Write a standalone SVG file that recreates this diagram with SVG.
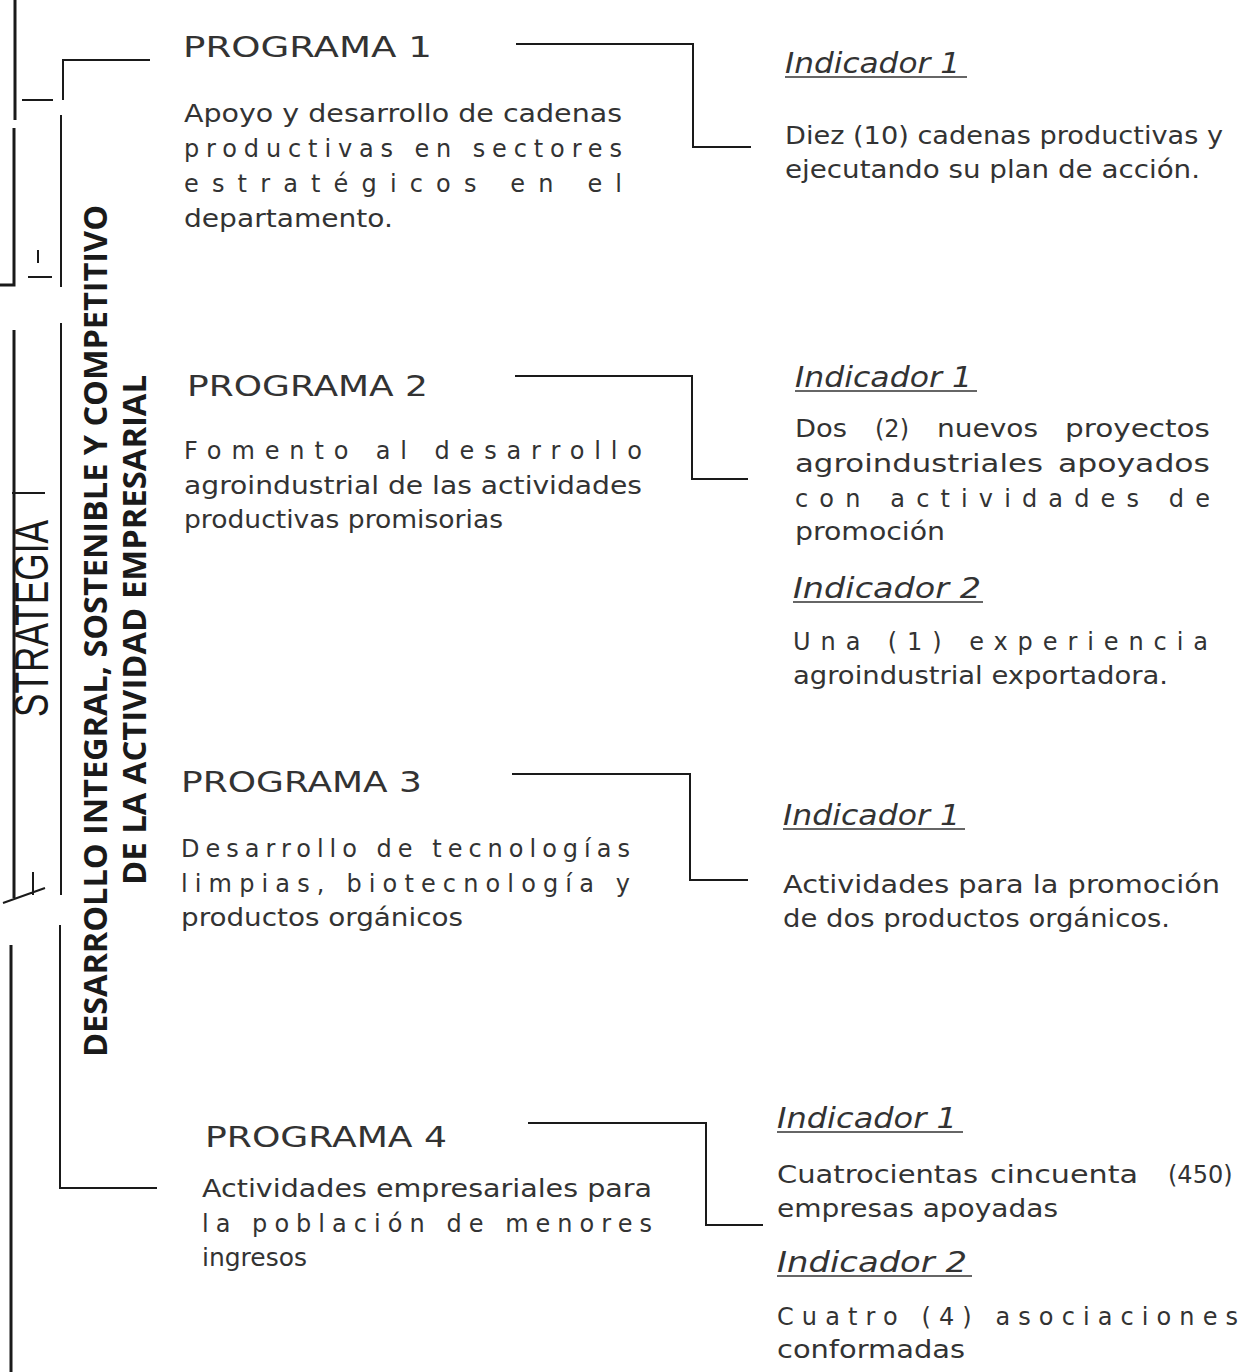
<svg xmlns="http://www.w3.org/2000/svg" width="1243" height="1372" viewBox="0 0 1243 1372">
<style>
.bg{fill:#ffffff}
.ln{stroke:#1a1a1a;stroke-width:2;fill:none}
.ln3{stroke:#1a1a1a;stroke-width:3;fill:none}
.h{font-family:"DejaVu Sans","Liberation Sans",sans-serif;font-size:29px;fill:#333333}
.b{font-family:"DejaVu Sans","Liberation Sans",sans-serif;font-size:24px;fill:#333333}
.ind{font-family:"DejaVu Sans","Liberation Sans",sans-serif;font-size:28px;font-style:italic;fill:#333333}
.ul{stroke:#333333;stroke-width:1.6}
.eje{font-family:"Open Sans","DejaVu Sans",sans-serif;font-size:33px;font-weight:700;fill:#1a1a1a}
.est{font-family:"Liberation Sans",Arial,sans-serif;font-size:48px;fill:#1a1a1a}
</style>
<rect class="bg" x="0" y="0" width="1243" height="1372"/>

<g id="estrategia">
  <path class="ln3" d="M15 0 V120 M14 128 V285 H0"/>
  <path class="ln" d="M22 100 H53 M28 277 H52 M38 250 V263"/>
  <path class="ln3" d="M14 330 V898"/>
  <path class="ln" d="M3 903 L45 888 M33 872 V895"/>
  <path class="ln3" d="M11 945 V1372"/>
  <path class="ln" d="M12 493 H45"/>
  <text class="est" transform="translate(48,717) rotate(-90)" textLength="197" lengthAdjust="spacingAndGlyphs">STRATEGIA</text>
</g>

<g id="eje">
  <path class="ln" d="M150 60 H63 V100 M61 115 V287 M61 323 V895 M60 925 V1188 H157"/>
  <text class="eje" transform="translate(107,1057) rotate(-90)" textLength="852" lengthAdjust="spacingAndGlyphs">DESARROLLO INTEGRAL, SOSTENIBLE Y COMPETITIVO</text>
  <text class="eje" transform="translate(146,885) rotate(-90)" textLength="510" lengthAdjust="spacingAndGlyphs">DE LA ACTIVIDAD EMPRESARIAL</text>
</g>

<g id="programa1">
  <text class="h" x="183" y="57" textLength="249" lengthAdjust="spacingAndGlyphs">PROGRAMA 1</text>
  <text class="b" x="184" y="122" textLength="438" lengthAdjust="spacingAndGlyphs">Apoyo y desarrollo de cadenas</text>
  <text class="b" x="184" y="157" textLength="438" lengthAdjust="spacing">productivas en sectores</text>
  <text class="b" x="184" y="192" textLength="438" lengthAdjust="spacing">estratégicos en el</text>
  <text class="b" x="184" y="227" textLength="209" lengthAdjust="spacingAndGlyphs">departamento.</text>
</g>

<g id="programa2">
  <text class="h" x="187" y="396" textLength="241" lengthAdjust="spacingAndGlyphs">PROGRAMA 2</text>
  <text class="b" x="184" y="459" textLength="458" lengthAdjust="spacing">Fomento al desarrollo</text>
  <text class="b" x="184" y="494" textLength="458" lengthAdjust="spacingAndGlyphs">agroindustrial de las actividades</text>
  <text class="b" x="184" y="528" textLength="319" lengthAdjust="spacingAndGlyphs">productivas promisorias</text>
</g>

<g id="programa3">
  <text class="h" x="181" y="792" textLength="241" lengthAdjust="spacingAndGlyphs">PROGRAMA 3</text>
  <text class="b" x="181" y="857" textLength="449" lengthAdjust="spacing">Desarrollo de tecnologías</text>
  <text class="b" x="181" y="892" textLength="449" lengthAdjust="spacing">limpias, biotecnología y</text>
  <text class="b" x="181" y="926" textLength="282" lengthAdjust="spacingAndGlyphs">productos orgánicos</text>
</g>

<g id="programa4">
  <text class="h" x="205" y="1147" textLength="242" lengthAdjust="spacingAndGlyphs">PROGRAMA 4</text>
  <text class="b" x="202" y="1197" textLength="450" lengthAdjust="spacingAndGlyphs">Actividades empresariales para</text>
  <text class="b" x="202" y="1232" textLength="450" lengthAdjust="spacing">la población de menores</text>
  <text class="b" x="202" y="1266" textLength="105" lengthAdjust="spacingAndGlyphs">ingresos</text>
</g>

<g id="indicador1-1">
  <text class="ind" x="785" y="73" textLength="175" lengthAdjust="spacingAndGlyphs">Indicador 1</text>
  <line class="ul" x1="785" y1="77" x2="967" y2="77"/>
  <text class="b" x="785" y="144" textLength="438" lengthAdjust="spacingAndGlyphs">Diez (10) cadenas productivas y</text>
  <text class="b" x="785" y="178" textLength="415" lengthAdjust="spacingAndGlyphs">ejecutando su plan de acción.</text>
</g>

<g id="indicador2-1">
  <text class="ind" x="795" y="387" textLength="177" lengthAdjust="spacingAndGlyphs">Indicador 1</text>
  <line class="ul" x1="795" y1="391" x2="977" y2="391"/>
  <text class="b" y="437"><tspan x="795" textLength="52" lengthAdjust="spacingAndGlyphs">Dos</tspan><tspan x="875">(2)</tspan><tspan x="937" textLength="101" lengthAdjust="spacingAndGlyphs">nuevos</tspan><tspan x="1065" textLength="145" lengthAdjust="spacingAndGlyphs">proyectos</tspan></text>
  <text class="b" y="472"><tspan x="795" textLength="248" lengthAdjust="spacingAndGlyphs">agroindustriales</tspan><tspan x="1058" textLength="152" lengthAdjust="spacingAndGlyphs">apoyados</tspan></text>
  <text class="b" x="795" y="507" textLength="415" lengthAdjust="spacing">con actividades de</text>
  <text class="b" x="795" y="540" textLength="150" lengthAdjust="spacingAndGlyphs">promoción</text>
</g>

<g id="indicador2-2">
  <text class="ind" x="793" y="598" textLength="188" lengthAdjust="spacingAndGlyphs">Indicador 2</text>
  <line class="ul" x1="793" y1="602" x2="983" y2="602"/>
  <text class="b" x="793" y="650" textLength="415" lengthAdjust="spacing">Una (1) experiencia</text>
  <text class="b" x="793" y="684" textLength="375" lengthAdjust="spacingAndGlyphs">agroindustrial exportadora.</text>
</g>

<g id="indicador3-1">
  <text class="ind" x="783" y="825" textLength="177" lengthAdjust="spacingAndGlyphs">Indicador 1</text>
  <line class="ul" x1="783" y1="829" x2="965" y2="829"/>
  <text class="b" x="783" y="893" textLength="437" lengthAdjust="spacingAndGlyphs">Actividades para la promoción</text>
  <text class="b" x="783" y="927" textLength="387" lengthAdjust="spacingAndGlyphs">de dos productos orgánicos.</text>
</g>

<g id="indicador4-1">
  <text class="ind" x="777" y="1128" textLength="180" lengthAdjust="spacingAndGlyphs">Indicador 1</text>
  <line class="ul" x1="777" y1="1132" x2="963" y2="1132"/>
  <text class="b" y="1183"><tspan x="777" textLength="201" lengthAdjust="spacingAndGlyphs">Cuatrocientas</tspan><tspan x="990" textLength="148" lengthAdjust="spacingAndGlyphs">cincuenta</tspan><tspan x="1168">(450)</tspan></text>
  <text class="b" x="777" y="1217" textLength="281" lengthAdjust="spacingAndGlyphs">empresas apoyadas</text>
</g>

<g id="indicador4-2">
  <text class="ind" x="777" y="1272" textLength="190" lengthAdjust="spacingAndGlyphs">Indicador 2</text>
  <line class="ul" x1="777" y1="1276" x2="972" y2="1276"/>
  <text class="b" x="777" y="1325" textLength="461" lengthAdjust="spacing">Cuatro (4) asociaciones</text>
  <text class="b" x="777" y="1358" textLength="188" lengthAdjust="spacingAndGlyphs">conformadas</text>
</g>

<g id="connectors">
  <path class="ln" d="M516 44 H693 V147 H751"/>
  <path class="ln" d="M515 376 H692 V479 H748"/>
  <path class="ln" d="M512 774 H690 V880 H748"/>
  <path class="ln" d="M528 1123 H706 V1225 H763"/>
</g>
</svg>
